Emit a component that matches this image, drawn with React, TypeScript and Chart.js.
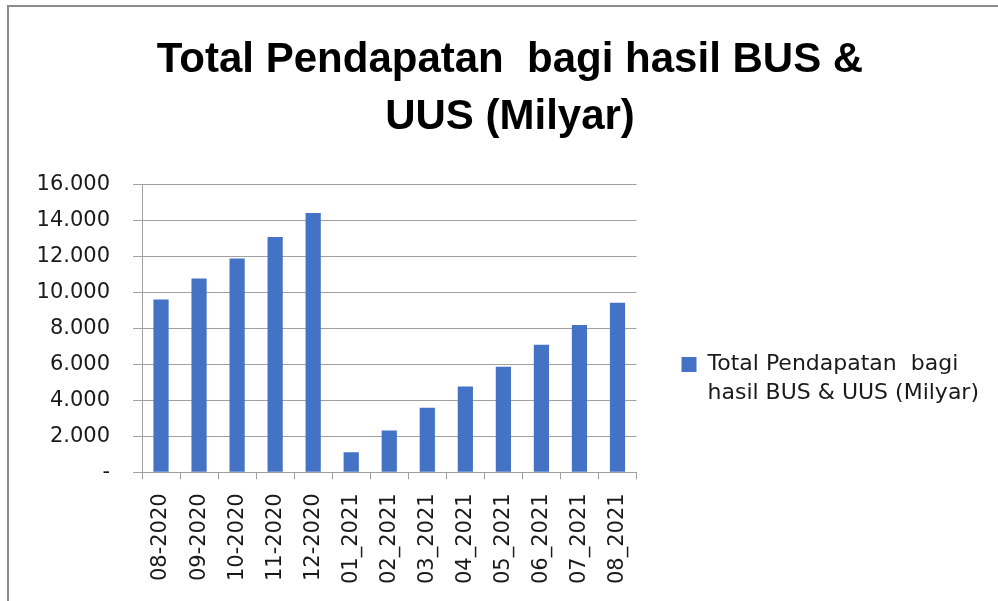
import React, { useEffect, useRef } from "react";
import { Chart, registerables } from "chart.js";

Chart.register(...registerables);

const categories = [
  "08-2020", "09-2020", "10-2020", "11-2020", "12-2020",
  "01_2021", "02_2021", "03_2021", "04_2021", "05_2021",
  "06_2021", "07_2021", "08_2021",
];
const values = [9600, 10760, 11870, 13070, 14400, 1110, 2320, 3580, 4770, 5860, 7080, 8180, 9420];
const seriesName = ["Total Pendapatan  bagi", "hasil BUS & UUS (Milyar)"];
const titleLines = ["Total Pendapatan  bagi hasil BUS &", "UUS (Milyar)"];
const yMax = 16000;
const yStep = 2000;

const fmt = (v: number) =>
  v === 0 ? "-" : String(Math.round(v)).replace(/\B(?=(\d{3})+(?!\d))/g, ".");

export default function App() {
  const ref = useRef<HTMLCanvasElement | null>(null);
  useEffect(() => {
    if (!ref.current) return;
    const chart = new Chart(ref.current, {
      type: "bar",
      data: {
        labels: categories,
        datasets: [
          {
            label: seriesName.join(" "),
            data: values,
            backgroundColor: "#4472C4",
            borderWidth: 0,
            barPercentage: 0.4,
            categoryPercentage: 1,
          },
        ],
      },
      options: {
        responsive: false,
        animation: false,
        layout: { padding: { left: 31, right: 9, top: 0, bottom: 3 } },
        plugins: {
          title: {
            display: true,
            text: titleLines,
            color: "#000",
            font: { family: "Liberation Sans", size: 42, weight: "bold", lineHeight: 1.36 },
            padding: { top: 32, bottom: 38 },
          },
          legend: {
            display: true,
            position: "right",
            align: "start",
            maxWidth: 420,
            title: {
              display: true,
              text: "",
              font: { size: 1, lineHeight: 1 },
              padding: { top: 0, bottom: 307.5 },
            },
            labels: {
              boxWidth: 15,
              boxHeight: 15,
              padding: 45,
              color: "#1a1a1a",
              font: { family: "DejaVu Sans", size: 22, lineHeight: 1.33 },
              generateLabels: () => [
                {
                  text: seriesName as any,
                  fillStyle: "#4472C4",
                  strokeStyle: "#4472C4",
                  fontColor: "#1a1a1a",
                  lineWidth: 0,
                  hidden: false,
                  datasetIndex: 0,
                } as any,
              ],
            },
          },
          tooltip: { enabled: false },
        },
        scales: {
          x: {
            grid: {
              display: true,
              offset: true,
              drawOnChartArea: false,
              drawTicks: true,
              tickLength: 7,
              color: "#a0a0a0",
            },
            border: { display: true, color: "#a0a0a0", width: 1 },
            ticks: {
              autoSkip: false,
              maxRotation: 90,
              minRotation: 90,
              padding: 14,
              color: "#1a1a1a",
              font: { family: "DejaVu Sans", size: 21 },
            },
          },
          y: {
            min: 0,
            max: yMax,
            afterFit: (scale: any) => {
              scale.width = 111;
            },
            grid: { color: "#a0a0a0", lineWidth: 1, tickLength: 9 },
            border: { display: true, color: "#a0a0a0", width: 1 },
            ticks: {
              stepSize: yStep,
              padding: 23,
              color: "#1a1a1a",
              font: { family: "DejaVu Sans", size: 21 },
              callback: (v: any) => fmt(Number(v)),
            },
          },
        },
      },
    });
    return () => chart.destroy();
  }, []);
  return (
    <div style={{ position: "fixed", left: 0, top: 0, width: 998, height: 601, background: "#fff" }}>
      <canvas ref={ref} width={998} height={601} style={{ display: "block" }} />
      <div
        style={{
          position: "absolute",
          left: 7,
          top: 5,
          width: 991,
          height: 596,
          borderTop: "2px solid #8c8c8c",
          borderLeft: "2px solid #8c8c8c",
          pointerEvents: "none",
          boxSizing: "border-box",
        }}
      />
    </div>
  );
}
